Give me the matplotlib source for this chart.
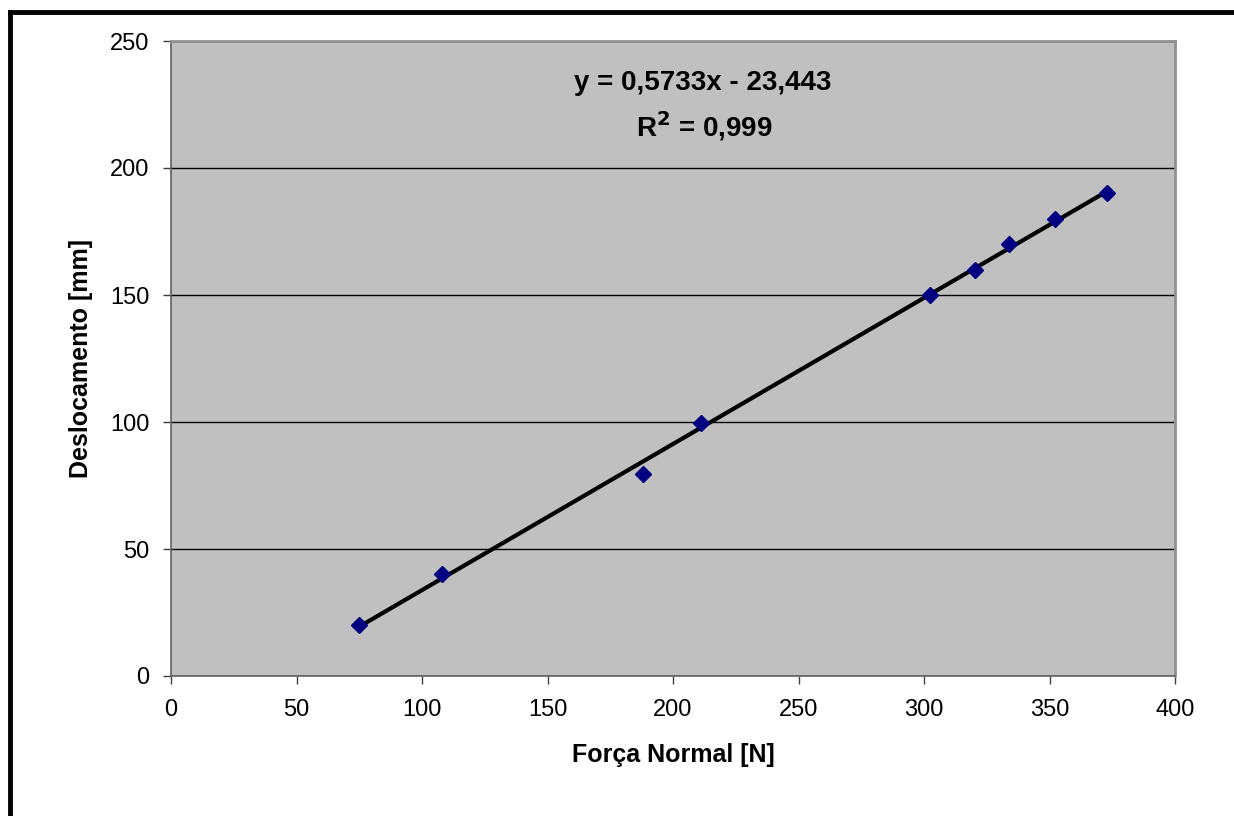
import numpy as np
import matplotlib.pyplot as plt
from matplotlib.lines import Line2D

plt.rcParams['font.family'] = ['Liberation Sans', 'DejaVu Sans']

# data
forca = [75, 108, 188, 211, 302.5, 320.5, 334, 352, 373]
desloc = [20, 40, 79.5, 99.5, 150, 160, 170, 180, 190]
eq_text = "y = 0,5733x - 23,443"
r2_text = "R$^{\\mathbf{2}}$ = 0,999"
xticks = [0, 50, 100, 150, 200, 250, 300, 350, 400]
yticks = [0, 50, 100, 150, 200, 250]

fig = plt.figure(figsize=(12.34, 8.16), dpi=100)
ax = fig.add_axes([171/1234, 1-676/816, (1175-171)/1234, (676-41)/816])
ax.set_facecolor('#c0c0c0')

# linear trend line over the data range
a, b = np.polyfit(forca, desloc, 1)
xs = np.array([min(forca), max(forca)])
ax.plot(xs, a*xs + b, color='black', lw=3, zorder=3)
ax.plot(forca, desloc, linestyle='none', marker='D', ms=8, color='#000080', zorder=4)

ax.set_xlim(0, 400)
ax.set_ylim(0, 250)
ax.set_xticks(xticks)
ax.set_yticks(yticks)
ax.yaxis.grid(True, color='black', lw=1)
ax.set_axisbelow(True)
for s in ['top', 'right']:
    ax.spines[s].set_color('#909090')
    ax.spines[s].set_linewidth(2)
for s in ['left', 'bottom']:
    ax.spines[s].set_color('#606060')
    ax.spines[s].set_linewidth(1.2)
ax.tick_params(direction='out', length=6, width=1, color='#404040', labelsize=17)
ax.tick_params(axis='x', pad=10.5)
ax.tick_params(axis='y', pad=9.5)

ax.set_xlabel("Força Normal [N]", fontsize=18, fontweight='bold', labelpad=16)
ax.set_ylabel("Deslocamento [mm]", fontsize=18, fontweight='bold', labelpad=12)

ax.text(0.530, 0.934, eq_text, transform=ax.transAxes, ha='center', va='center',
        fontsize=20, fontweight='bold')
ax.text(0.531, 0.866, r2_text, transform=ax.transAxes, ha='center', va='center',
        fontsize=20, fontweight='bold')

# outer frame (only top and left visible in the crop)
fig.add_artist(Line2D([10/1234, 1], [1-12/816, 1-12/816], color='black', lw=3.5))
fig.add_artist(Line2D([10/1234, 10/1234], [0, 1-12/816], color='black', lw=3.5))

fig.savefig('out.png', dpi=100)
